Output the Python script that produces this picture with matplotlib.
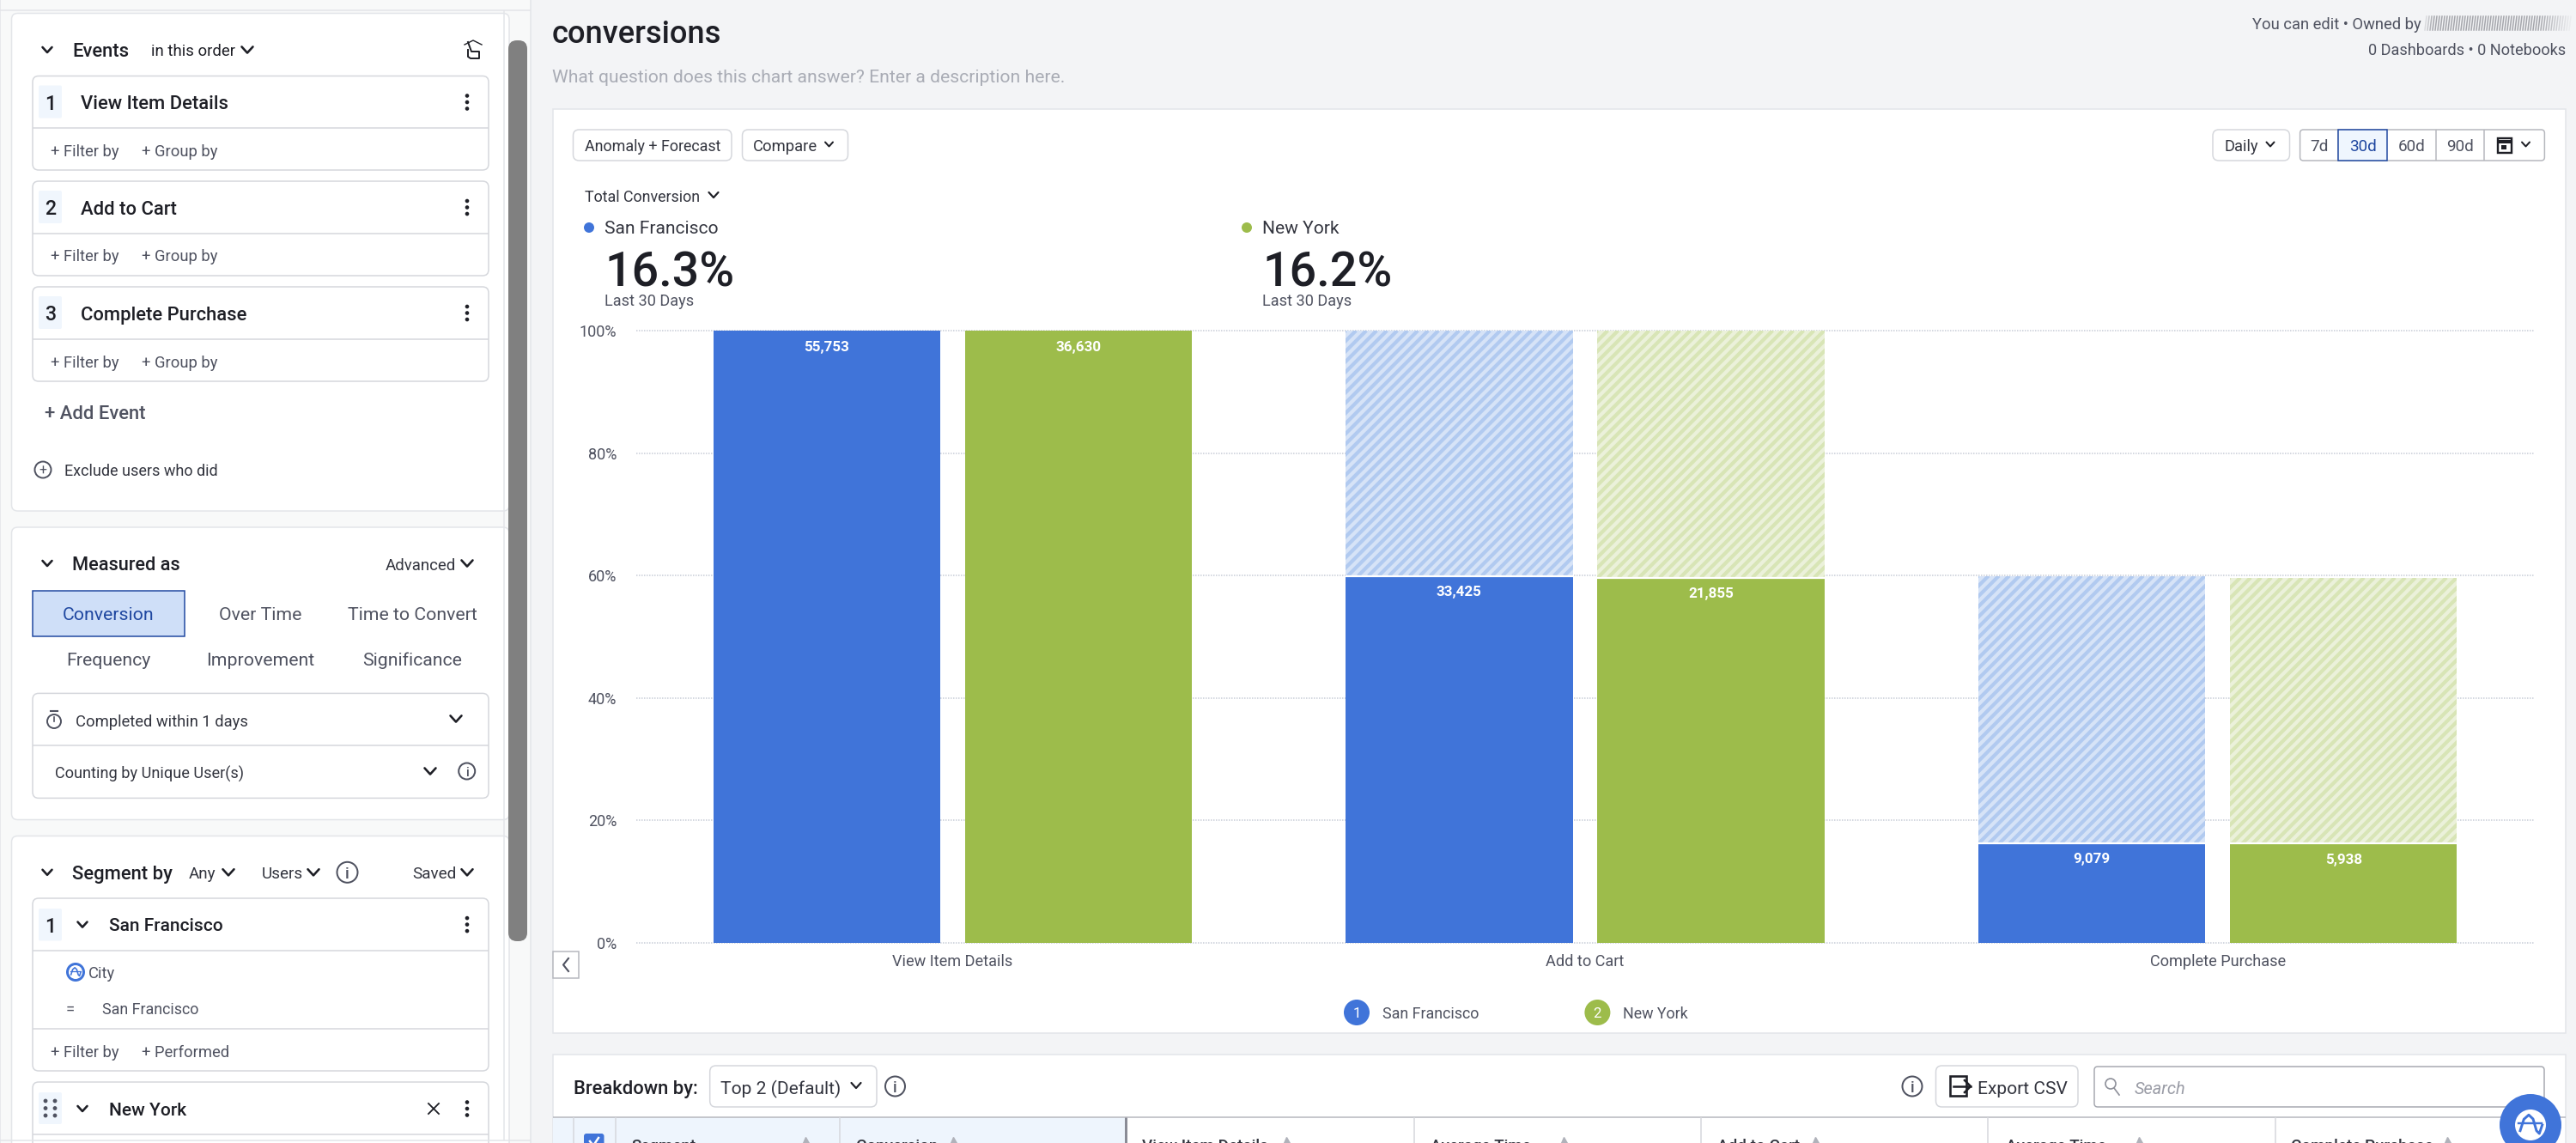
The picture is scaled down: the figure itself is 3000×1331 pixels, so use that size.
"""
Funnel chart screenshot - conversions by city, with the surrounding app panels.
Everything outside the chart axes is placed in pixel coords on a full-figure axes.
"""

import numpy as np
import matplotlib
matplotlib.use('Agg')
import matplotlib.pyplot as plt
from matplotlib.patches import FancyBboxPatch, Rectangle, Circle

plt.rcParams['font.family'] = ['Roboto', 'DejaVu Sans']

# ============================================================
# DATA
# ============================================================
steps = ['View Item Details', 'Add to Cart', 'Complete Purchase']
city_names = ['San Francisco', 'New York']
counts_sf = [55753, 33425, 9079]
counts_ny = [36630, 21855, 5938]
total_conversion = ['16.3%', '16.2%']
y_ticks = [0, 20, 40, 60, 80, 100]

measure_tabs = ['Conversion', 'Over Time', 'Time to Convert',
                'Frequency', 'Improvement', 'Significance']
range_tabs = ['7d', '30d', '60d', '90d']
table_columns = ['Segment', 'Conversion', 'View Item Details', 'Average Time',
                 'Add to Cart', 'Average Time', 'Complete Purchase']

# ============================================================
# STYLE CONSTANTS
# ============================================================
BLUE = '#4074d9'
GREEN = '#9dbc4b'
GHOST_BLUE = ('#d6e3f7', '#b1caf0')
GHOST_GREEN = ('#ebf1da', '#d8e5b6')
DARK = '#1e1f26'
MID = '#4f5260'
LINE = '#e3e5e9'
BOX = '#d5d7dc'
NAVY = '#1f47a0'
PX = 0.72       # font px to pt at dpi 100
FONT = 1.05     # Roboto runs a bit narrower than the original UI font
PLOT_W = 2210   # chart axes size in px
PLOT_H = 713
STRIPE_PERIOD = 12   # px along the horizontal

fig = plt.figure(figsize=(30, 13.31), dpi=100, facecolor='#f3f4f6')
ui = fig.add_axes([0, 0, 1, 1])
ui.set_xlim(0, 3000)
ui.set_ylim(1331, 0)
ui.axis('off')


def rect(x0, y0, x1, y1, fc='white', ec=LINE, lw=1.5, z=1):
    ui.add_patch(Rectangle((x0, y0), x1 - x0, y1 - y0, fc=fc, ec=ec, lw=lw * PX, zorder=z))


def rbox(x0, y0, x1, y1, fc='white', ec=BOX, lw=1.5, r=7, z=2):
    ui.add_patch(FancyBboxPatch((x0, y0), x1 - x0, y1 - y0,
                                boxstyle=f'round,pad=0,rounding_size={r}',
                                fc=fc, ec=ec, lw=lw * PX, zorder=z))


def txt(x, y, s, size=19, color=DARK, weight='normal', ha='left', style='normal', z=5):
    ui.text(x, y, s, fontsize=size * PX * FONT, color=color, fontweight=weight, ha=ha,
            va='center_baseline', style=style, zorder=z)


def hline(x0, x1, y, color=BOX, lw=1.5, z=3):
    ui.plot([x0, x1], [y, y], color=color, lw=lw * PX, zorder=z, solid_capstyle='butt')


def vline(x, y0, y1, color=BOX, lw=1.5, z=3):
    ui.plot([x, x], [y0, y1], color=color, lw=lw * PX, zorder=z, solid_capstyle='butt')


def chevron(x, y, w=6.5, color=DARK, lw=2.6):
    ui.plot([x - w, x, x + w], [y - w * 0.55, y + w * 0.55, y - w * 0.55],
            color=color, lw=lw * PX, zorder=5, solid_capstyle='round')


def kebab(x, y):
    for dy in (-7.5, 0, 7.5):
        ui.add_patch(Circle((x, y + dy), 2.3, fc=DARK, ec='none', zorder=5))


def info(x, y, r=9.5, color=MID, lw=2):
    ui.add_patch(Circle((x, y), r, fc='none', ec=color, lw=lw * PX, zorder=5))
    txt(x, y, 'i', size=r * 1.5, color=color, ha='center', weight=500)


def logo(cx, cy, r_out, r_in, z=7):
    """Round brand mark, wave and bar scaled from the inner circle radius."""
    k = r_in / 18
    ui.add_patch(Circle((cx, cy), r_out, fc=BLUE, ec='none', zorder=z))
    ui.add_patch(Circle((cx, cy), r_in, fc='white', ec='none', zorder=z + 1))
    wx = np.array([-12, -7.7, -2, 3, 7, 10.3, 13.7]) * k
    wy = np.array([6.7, -6.7, -11.7, -7, 6.7, 10, 0]) * k
    ui.plot(cx + wx, cy + wy, color=BLUE, lw=2.4 * k * PX + 0.4, zorder=z + 2)
    ui.plot(cx + np.array([-14, 13]) * k, cy + np.array([-1.7, -1.7]) * k,
            color=BLUE, lw=2.0 * k * PX + 0.3, zorder=z + 2)


def num_square(y0, y1, label=None):
    rbox(45, y0, 72, y1, fc='#f0f6fd', ec='none', r=2, z=3)
    if label:
        txt(58.5, (y0 + y1) / 2, label, size=22, weight=500, ha='center')


def event_box(y0, y1, ydiv, number, name):
    rbox(38, y0, 569, y1)
    hline(38, 569, ydiv)
    num_square(y0 + 11, y0 + 49, number)
    txt(94, y0 + 30.5, name, size=21, weight=500)
    kebab(544, y0 + 30.5)
    ysub = (ydiv + y1) / 2 + 1
    txt(59, ysub, '+ Filter by', color=MID, size=17.5)
    txt(165, ysub, '+ Group by', color=MID, size=17.5)


# ============================================================
# LEFT PANEL
# ============================================================
rect(0, -5, 618, 1340, fc='#f8f9f9', ec=LINE)
hline(0, 618, 12, color=LINE)
hline(0, 618, 1328, color=LINE)
rbox(13.5, 15.5, 593, 595, ec=LINE)
rbox(13.5, 614, 593, 954.5, ec=LINE)
rbox(13.5, 973.5, 593, 1400, ec=LINE)
vline(587, 12, 1328, color=LINE, z=3)
rbox(592, 47, 614, 1096, fc='#808080', ec='none', r=10, z=4)

# events
chevron(55, 58, w=5.5)
txt(84, 58, 'Events', size=21, weight=500)
txt(176, 58, 'in this order', size=17.7)
chevron(288, 58)
ui.plot([545, 545, 548, 551, 551, 558, 558, 549, 545], [58, 66, 68, 68, 68, 68, 60, 60, 49],
        color=DARK, lw=1.4, zorder=5)
ui.plot([541, 551, 561], [52, 47, 52], color=DARK, lw=1.0, zorder=5)

event_box(88.5, 198, 149, '1', steps[0])
event_box(211, 321, 272, '2', steps[1])
event_box(334, 444, 395, '3', steps[2])
txt(52, 480, '+ Add Event', size=21, color=MID, weight=500)
ui.add_patch(Circle((50, 547), 9.5, fc='none', ec=MID, lw=1.4, zorder=5))
txt(50, 547, '+', size=15, color=MID, ha='center')
txt(75, 547, 'Exclude users who did', size=17.2, color='#33353f')

# measured as
chevron(55, 656, w=5.5)
txt(84, 656, 'Measured as', size=20.7, weight=500)
txt(449, 657, 'Advanced', size=17.7, color='#33353f')
chevron(544, 656)
tab_x = [38, 215, 391.5, 568.6]
tab_y = [687.6, 741, 794]
for i, label in enumerate(measure_tabs):
    col, row = i % 3, i // 3
    active = i == 0
    if not active:
        rect(tab_x[col], tab_y[row], tab_x[col + 1], tab_y[row + 1], ec=BOX)
    txt((tab_x[col] + tab_x[col + 1]) / 2, (tab_y[row] + tab_y[row + 1]) / 2, label, size=20.2,
        color=NAVY if active else MID, ha='center')
rect(tab_x[0], tab_y[0], tab_x[1], tab_y[1], fc='#cfdff8', ec=NAVY, z=2)

rbox(38, 807.4, 569, 929.4)
hline(38, 569, 868)
ui.add_patch(Circle((63, 840), 8, fc='none', ec=MID, lw=1.4, zorder=5))
ui.plot([59, 67], [828, 828], color=MID, lw=1.5, zorder=5)
ui.plot([63, 63], [835, 840], color=MID, lw=1.2, zorder=5)
txt(88.5, 838.7, 'Completed within 1 days', size=17.5, color='#33353f')
chevron(531, 837)
txt(64.5, 899.5, 'Counting by Unique User(s)', size=17.3, color='#33353f')
chevron(501, 898)
info(543.7, 898)

# segment by
chevron(55, 1015.8, w=5.5)
txt(84, 1015.8, 'Segment by', size=21, weight=500)
txt(220, 1016, 'Any', size=18, color='#33353f')
chevron(266, 1015.8)
txt(304.5, 1016, 'Users', size=18, color='#33353f')
chevron(365, 1015.8)
info(404.5, 1015.8, r=12)
txt(480, 1016, 'Saved', size=18, color='#33353f')
chevron(544, 1015.8)

rbox(38, 1046, 569, 1247)
hline(38, 569, 1107.4)
hline(38, 569, 1198)
num_square(1058, 1095.5, '1')
chevron(96, 1076.6, w=5.5)
txt(127, 1077, city_names[0], size=20, weight=500)
kebab(544, 1076.6)
logo(88, 1132, 11, 8, z=5)
txt(103, 1132, 'City', size=17.5, color=MID)
txt(81.6, 1174, '=', size=17.5, color=MID, ha='center')
txt(119, 1174, city_names[0], size=17, color=MID)
txt(59, 1223.7, '+ Filter by', size=17.5, color=MID)
txt(165, 1223.7, '+ Performed', size=17.5, color=MID)

rbox(38, 1260, 569, 1400)
hline(38, 569, 1321)
num_square(1272, 1309)
for dx in (53, 64):
    for dy in (1282, 1290.5, 1299):
        ui.add_patch(Circle((dx, dy), 2.4, fc=MID, ec='none', zorder=5))
chevron(96, 1291, w=5.5)
txt(127, 1291.5, city_names[1], size=20, weight=500)
ui.plot([499, 511], [1285, 1297], color=DARK, lw=1.3, zorder=5)
ui.plot([499, 511], [1297, 1285], color=DARK, lw=1.3, zorder=5)
kebab(544, 1291)

# ============================================================
# HEADER
# ============================================================
txt(643, 37, 'conversions', size=34.5, weight=500)
txt(643, 88, 'What question does this chart answer? Enter a description here.',
    size=20.1, color='#a9acb5')
txt(2820, 27, 'You can edit • Owned by', size=17.5, color=MID, ha='right')
# owner name is blurred out in the screenshot
for bx in np.arange(2826, 2996, 3):
    fade = min(1, (bx - 2822) / 12, (2998 - bx) / 40) * 0.7
    ui.plot([bx, bx - 2], [19, 35], color='#85868d', lw=1.1, alpha=fade, zorder=5)
txt(2988, 57, '0 Dashboards • 0 Notebooks', size=17.3, color=MID, ha='right')

# ============================================================
# CHART CARD
# ============================================================
rect(644, 127, 2988, 1203)
rbox(667.5, 151, 852, 187)
txt(759.7, 169, 'Anomaly + Forecast', size=17, ha='center', color='#33353f')
rbox(864.5, 151, 987.5, 187)
txt(877, 169, 'Compare', size=17.5, color='#33353f')
chevron(965.5, 168, w=4.5, lw=2)

rbox(2577, 151, 2666.5, 187)
txt(2590.6, 169, 'Daily', size=17.5, color='#33353f')
chevron(2644, 168, w=4.5, lw=2)
seg_x = [2678.6, 2723, 2780.4, 2837, 2893.3, 2963.4]
rbox(seg_x[0], 151, seg_x[-1], 187, ec='#b5b7bd', r=4)
for i, label in enumerate(range_tabs):
    cx = (seg_x[i] + seg_x[i + 1]) / 2
    if label == '30d':
        rect(seg_x[i], 151, seg_x[i + 1], 187, fc='#eff6fe', ec=NAVY, z=3)
    else:
        vline(seg_x[i + 1], 151, 187, color='#b5b7bd')
    txt(cx, 169, label, size=18, ha='center', color=NAVY if label == '30d' else MID)
rect(2909, 161, 2925, 178, fc='none', ec=DARK, lw=2.4, z=5)
hline(2909, 2925, 165, color=DARK, lw=4, z=5)
rect(2913, 169, 2919, 174, fc=DARK, ec='none', z=5)
chevron(2941.5, 168, w=4.5, lw=2)

txt(681, 228, 'Total Conversion', size=17, color='#33353f')
chevron(831, 227, w=5.5, lw=2.2)
for name, value, colour, x0 in zip(city_names, total_conversion, [BLUE, GREEN], [686, 1452]):
    ui.add_patch(Circle((x0, 265), 6, fc=colour, ec='none', zorder=5))
    tx = x0 + 18
    txt(tx, 265, name, size=20, color='#33353f')
    txt(tx, 312, value, size=53, weight=500)
    txt(tx, 349, 'Last 30 Days', size=17.3, color=MID)

# ------------------------------------------------------------
# funnel bars, real axes
# ------------------------------------------------------------
ax = fig.add_axes([741 / 3000, (1331 - 1098) / 1331, PLOT_W / 3000, PLOT_H / 1331])
ax.patch.set_visible(False)
ax.set_xlim(-0.5, 2.5)
ax.set_ylim(0, 100)
x = np.arange(len(steps))
bar_w = 0.359
offset = 0.199
x_per_px = 3 / PLOT_W
y_per_px = 100 / PLOT_H


def stripes(patch, colour):
    """Diagonal stripes clipped to a bar, the built-in hatch is too fine here."""
    x0, y0 = patch.get_x(), patch.get_y()
    w, h = patch.get_width(), patch.get_height()
    span = h / y_per_px * x_per_px
    for sx in np.arange(x0 - span, x0 + w, STRIPE_PERIOD * x_per_px):
        line, = ax.plot([sx, sx + span], [y0, y0 + h], color=colour, lw=4.2 * PX,
                        solid_capstyle='butt', zorder=3.5)
        line.set_clip_path(patch)


series = [(counts_sf, -offset, BLUE, GHOST_BLUE), (counts_ny, offset, GREEN, GHOST_GREEN)]
for counts, off, colour, ghost in series:
    pct = np.array(counts) / counts[0] * 100
    ax.bar(x + off, pct, bar_w, color=colour, linewidth=0, zorder=3)
    for i in range(1, len(pct)):
        drawn = ax.bar(x[i] + off, pct[i - 1] - pct[i], bar_w, bottom=pct[i], color=ghost[0],
                       linewidth=0, zorder=3)
        stripes(drawn[0], ghost[1])
        ax.plot([x[i] + off - bar_w / 2, x[i] + off + bar_w / 2], [pct[i], pct[i]],
                color='white', lw=1.6, zorder=4, solid_capstyle='butt')
    for i, n in enumerate(counts):
        ax.annotate(f'{n:,}', (x[i] + off, pct[i]), xytext=(0, -19 * PX),
                    textcoords='offset points', ha='center', va='center',
                    color='white', fontsize=17 * PX, fontweight='bold', zorder=5)

ax.set_xticks(x)
ax.set_xticklabels(steps, fontsize=18.2 * PX, color=MID)
ax.set_yticks(y_ticks)
ax.set_yticklabels([f'{t}%' for t in y_ticks], fontsize=18 * PX, color=MID)
ax.tick_params(axis='both', length=0)
ax.tick_params(axis='x', pad=13 * PX)
ax.tick_params(axis='y', pad=23 * PX)
ax.grid(axis='y', color='#c6ccd6', linestyle=(0, (1, 1)), linewidth=1.5 * PX)
ax.set_axisbelow(True)
for line in ax.get_ygridlines():
    line.set_clip_on(False)
for side in ax.spines:
    ax.spines[side].set_visible(False)

# collapse button and legend
rect(644, 1108, 674, 1139, ec='#b5b7bd', z=3)
ui.plot([662, 656, 662], [1116, 1123.5, 1131], color=MID, lw=1.5, zorder=5)
for i, (name, colour, cx) in enumerate(zip(city_names, [BLUE, GREEN], [1580, 1860.4])):
    ui.add_patch(Circle((cx, 1179), 15, fc=colour, ec='none', zorder=5))
    txt(cx, 1179, str(i + 1), size=16, color='white', ha='center')
    txt(cx + 30, 1179, name, size=17, color=MID)

# ============================================================
# TABLE CARD
# ============================================================
rect(644, 1228, 2988, 1340)
txt(668, 1266, 'Breakdown by:', size=21, weight=500)
rbox(826.7, 1241, 1021, 1289)
txt(839, 1266, 'Top 2 (Default)', size=20, color='#33353f')
chevron(997, 1264, w=5.5, lw=2.2)
info(1042.5, 1265, r=11.5)
info(2227, 1265, r=11.5)
rbox(2254.5, 1241, 2420, 1289)
rect(2271, 1253, 2290, 1276, fc='none', ec=DARK, lw=2.6, z=5)
ui.plot([2275, 2295], [1265, 1265], color=DARK, lw=1.8, zorder=6)
ui.plot([2288, 2295, 2288], [1258, 1265, 1272], color=DARK, lw=1.8, zorder=6)
txt(2303, 1266, 'Export CSV', size=20, color='#33353f')
rbox(2439, 1242, 2963, 1289, ec='#a6a8b0', r=4)
ui.add_patch(Circle((2458, 1262), 6, fc='none', ec='#8e909a', lw=1.2, zorder=5))
ui.plot([2462, 2468], [1267, 1275], color='#8e909a', lw=1.2, zorder=5)
txt(2485.5, 1266, 'Search', size=19, color='#9a9ca6', style='italic')

rect(644, 1301, 1311, 1340, fc='#eef5fd', ec='none', z=2)
hline(644, 2988, 1301, color='#b5b7bd')
vline(1311, 1301, 1331, color='#8a8c96', lw=3)
for vx in [667.5, 717, 978, 1647, 1981, 2315, 2650]:
    vline(vx, 1301, 1331)
rbox(680, 1320, 703.5, 1345, fc=BLUE, ec='none', r=3, z=3)
ui.plot([687, 691, 697], [1329, 1334, 1325], color='white', lw=1.8, zorder=5)
col_x = [735.6, 997, 1330, 1666, 2000, 2335.6, 2668]
arrow_x = [938, 1110, 1498, 1821, 2114, 2491, 2850]
for label, cx, ax_x in zip(table_columns, col_x, arrow_x):
    # the header row runs off the bottom of the screenshot
    txt(cx, 1333, label, size=18, weight=500, color='#33353f')
    ui.plot(ax_x, 1327, marker='^', ms=7 * PX, color='#b0b2ba', zorder=5)

# floating logo button
logo(2947, 1310, 36, 18)

fig.savefig('out.png', dpi=100, facecolor=fig.get_facecolor())
plt.close(fig)
